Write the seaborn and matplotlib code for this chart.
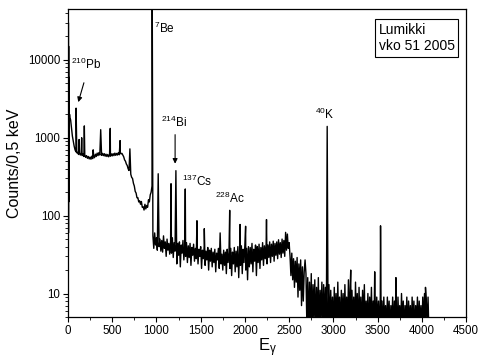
import numpy as np
import pandas as pd
import matplotlib
matplotlib.use('Agg')
import matplotlib.pyplot as plt
import seaborn as sns
from matplotlib.ticker import MultipleLocator, LogLocator, FixedLocator, FixedFormatter, NullFormatter

# Спектр: начало (каналы 0..100)
start_channels = [0, 1, 2, 3, 4, 5, 6, 7, 8, 9, 10, 12, 15, 18, 22, 30, 40, 50, 60, 70, 80, 90, 100]
start_counts = [25, 45000, 28, 40000, 35, 30000, 60, 15000, 150, 6000, 900, 2500, 1600, 2000,
                1800, 1700, 1350, 1050, 900, 780, 700, 660, 640]

# Плато 110..600 (шаг 10)
plateau_counts = [650, 610, 645, 600, 635, 590, 620, 575, 605, 560,
                  590, 545, 575, 535, 565, 530, 580, 540, 595, 555,
                  615, 575, 635, 590, 645, 600, 640, 595, 630, 590,
                  625, 580, 615, 575, 610, 570, 605, 580, 620, 585,
                  625, 590, 635, 595, 630, 600, 645, 605, 655, 620]

# Спад 610..950 (шаг 10)
drop_counts = [630, 600, 570, 520, 500, 460, 440, 400, 380, 350,
               340, 310, 300, 260, 240, 205, 195, 170, 170, 150,
               155, 140, 152, 128, 130, 118, 140, 122, 135, 128,
               160, 150, 185, 200, 240]

# Шумная полоса 960..2500 (шаг 10)
band_counts = [55, 38, 60, 42, 52, 36, 58, 40, 50, 35,
               48, 34, 55, 38, 46, 30, 50, 36, 44, 32,
               47, 33, 52, 29, 45, 35, 49, 24, 44, 31,
               46, 22, 42, 33, 48, 27, 40, 30, 45, 25,
               41, 29, 44, 23, 39, 31, 43, 26, 38, 28,
               42, 24, 37, 30, 40, 21, 36, 28, 41, 23,
               35, 27, 39, 20, 36, 26, 38, 22, 34, 25,
               37, 19, 33, 27, 38, 21, 35, 24, 32, 20,
               36, 23, 34, 18, 37, 25, 33, 21, 38, 17,
               34, 24, 39, 19, 35, 22, 40, 16, 36, 23,
               41, 18, 37, 25, 43, 20, 38, 15, 40, 22,
               39, 24, 44, 19, 37, 26, 42, 17, 40, 25,
               43, 21, 39, 27, 45, 23, 41, 28, 44, 24,
               42, 29, 46, 25, 43, 30, 47, 26, 44, 31,
               46, 28, 49, 32, 45, 29, 50, 33, 48, 30,
               52, 36, 58, 38, 45]

# Хвост 2510..4080 (шаг 10)
tail_counts = [30, 17, 33, 15, 28, 12, 26, 14, 29, 9,
               24, 11, 27, 7, 22, 8, 19, 5, 18, 4,
               16, 3, 14, 4, 18, 3, 13, 5, 15, 3,
               12, 4, 16, 3, 11, 5, 14, 3, 13, 4,
               12, 3, 10, 4, 13, 3, 11, 4, 9, 3,
               12, 4, 10, 3, 14, 4, 9, 3, 11, 4,
               10, 3, 13, 4, 9, 3, 15, 4, 12, 3,
               11, 4, 9, 3, 14, 4, 10, 3, 12, 4,
               9, 3, 11, 4, 13, 3, 8, 4, 10, 3,
               9, 4, 12, 3, 8, 4, 10, 3, 9, 4,
               8, 3, 9, 4, 8, 3, 9, 4, 7, 3,
               9, 4, 8, 3, 7, 4, 9, 3, 8, 4,
               8, 3, 9, 4, 7, 3, 10, 4, 8, 3,
               7, 4, 9, 3, 8, 4, 7, 3, 9, 4,
               8, 3, 7, 4, 9, 3, 8, 4, 7, 3,
               9, 4, 10, 3, 8, 4, 9, 3]

# Пики (канал, высота)
peak_channels = [92, 126, 155, 185, 285, 370, 478, 589, 700, 952,
                 1020, 1165, 1220, 1326, 1458, 1541, 1720, 1828, 1945, 2008,
                 2244, 2460, 2680, 2930, 3196, 3467, 3533, 3707, 4041]
peak_counts = [2400, 950, 1000, 1420, 700, 1270, 1320, 920, 720, 100000,
               345, 257, 378, 220, 86, 68, 60, 117, 77, 73,
               89, 61, 27, 1400, 20, 19, 74, 16, 12]

# Подписи изотопов
label_texts = [r'$^{210}$Pb', r'$^{7}$Be', r'$^{214}$Bi', r'$^{137}$Cs', r'$^{228}$Ac', r'$^{40}$K']
label_x = [35, 975, 1055, 1290, 1665, 2790]
label_y = [7700, 22000, 1360, 238, 147, 1750]


def build_spectrum():
    """
    Собираем спектр из сегментов и пиков.
    """
    base = pd.DataFrame({
        'channel': start_channels
        + list(range(110, 610, 10))
        + list(range(610, 960, 10))
        + list(range(960, 2510, 10))
        + list(range(2510, 4090, 10)),
        'counts': start_counts + plateau_counts + drop_counts + band_counts + tail_counts,
    })
    peaks = pd.DataFrame({'channel': peak_channels, 'counts': peak_counts})
    df = pd.concat([peaks, base]).drop_duplicates(subset='channel', keep='first')
    return df.sort_values('channel').reset_index(drop=True)


df = build_spectrum()

sns.set_style('ticks')
plt.rcParams['font.family'] = ['Liberation Sans', 'DejaVu Sans']
plt.rcParams['mathtext.default'] = 'regular'
for key in ['text.color', 'axes.labelcolor', 'xtick.color', 'ytick.color', 'axes.edgecolor']:
    plt.rcParams[key] = 'black'

fig = plt.figure(figsize=(4.82, 3.61), dpi=100)
ax = fig.add_axes([0.141, 0.122, 0.826, 0.853])

sns.lineplot(data=df, x='channel', y='counts', ax=ax, color='black', lw=1.0,
             estimator=None, sort=False)

ax.set_yscale('log')
ax.set_xlim(0, 4500)
ax.set_ylim(5, 45000)

ax.xaxis.set_major_locator(MultipleLocator(500))
ax.xaxis.set_minor_locator(MultipleLocator(250))
ax.yaxis.set_major_locator(FixedLocator([10, 100, 1000, 10000]))
ax.yaxis.set_major_formatter(FixedFormatter(['10', '100', '1000', '10000']))
ax.yaxis.set_minor_locator(LogLocator(base=10, subs=np.arange(2, 10)))
ax.yaxis.set_minor_formatter(NullFormatter())
ax.tick_params(which='major', direction='out', length=3.5, width=0.8, labelsize=8.3, pad=2)
ax.tick_params(which='minor', direction='out', length=2, width=0.6)
for side in ['top', 'right', 'bottom', 'left']:
    ax.spines[side].set_visible(True)
    ax.spines[side].set_linewidth(0.9)

ax.set_xlabel(r'E$_{\gamma}$', fontsize=12, labelpad=0)
ax.set_ylabel('Counts/0,5 keV', fontsize=11.5, labelpad=4)

for t, x, y in zip(label_texts, label_x, label_y):
    ax.text(x, y, t, fontsize=8.5, ha='left', va='baseline')

# Стрелки
ax.annotate('', xy=(108, 2650), xytext=(189, 5500),
            arrowprops=dict(arrowstyle='-|>', color='black', lw=0.8, mutation_scale=7))
ax.annotate('', xy=(1211, 428), xytext=(1211, 1190),
            arrowprops=dict(arrowstyle='-|>', color='black', lw=0.8, mutation_scale=7))

ax.text(0.78, 0.955, 'Lumikki\nvko 51 2005', transform=ax.transAxes, fontsize=10,
        ha='left', va='top', linespacing=1.2,
        bbox=dict(boxstyle='square,pad=0.25', fc='white', ec='black', lw=0.8))

fig.savefig('out.png', dpi=100)
